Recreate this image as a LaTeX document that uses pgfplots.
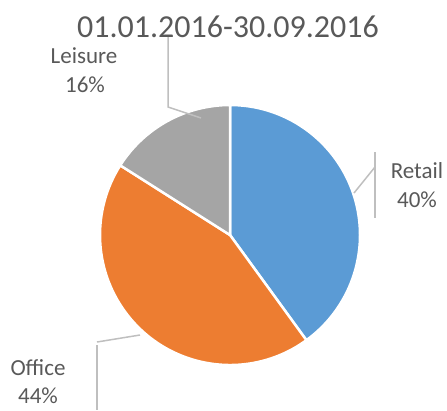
\documentclass[border=0pt]{standalone}
\usepackage{pgfplots}
\pgfplotsset{compat=1.18}
\usepackage{fontspec}
\setmainfont{Carlito}
\definecolor{retail}{HTML}{5B9BD5}
\definecolor{office}{HTML}{ED7D31}
\definecolor{leisure}{HTML}{A5A5A5}
\definecolor{txt}{HTML}{595959}
\definecolor{lead}{HTML}{BFBFBF}

% shares in percent
\def\vRetail{40}
\def\vOffice{44}
\def\vLeisure{16}
% angles, clockwise from 12 o'clock
\pgfmathsetmacro\aA{90}
\pgfmathsetmacro\aB{\aA-3.6*\vRetail}
\pgfmathsetmacro\aC{\aB-3.6*\vOffice}
\pgfmathsetmacro\aD{\aC-3.6*\vLeisure}

\begin{document}
\begin{tikzpicture}
\begin{axis}[
    width=447pt, height=410pt, scale only axis,
    xmin=0, xmax=447, ymin=0, ymax=410,
    y dir=reverse, hide axis, clip=false,
]
    % slices
    \filldraw[fill=retail, draw=white, line width=2.5pt, line join=round]
        (axis cs:230,235) -- ++(\aA:130pt) arc[start angle=\aA, end angle=\aB, radius=130pt] -- cycle;
    \filldraw[fill=office, draw=white, line width=2.5pt, line join=round]
        (axis cs:230,235) -- ++(\aB:130pt) arc[start angle=\aB, end angle=\aC, radius=130pt] -- cycle;
    \filldraw[fill=leisure, draw=white, line width=2.5pt, line join=round]
        (axis cs:230,235) -- ++(\aC:130pt) arc[start angle=\aC, end angle=\aD, radius=130pt] -- cycle;

    % leader lines
    \draw[lead, line width=1.5pt] (axis cs:168,37) -- (axis cs:168,107) -- (axis cs:201,118);
    \draw[lead, line width=1.5pt] (axis cs:375,152) -- (axis cs:375,218);
    \draw[lead, line width=1.5pt] (axis cs:375,167) -- (axis cs:354,193);
    \draw[lead, line width=1.5pt] (axis cs:97,345) -- (axis cs:97,410);
    \draw[lead, line width=1.5pt] (axis cs:97,342) -- (axis cs:140,335);

    % title
    \node[anchor=base, text=txt, font=\fontsize{32}{38}\selectfont, inner sep=0pt]
        at (axis cs:228,37) {01.01.2016-30.09.2016};

    % labels
    \node[anchor=base, text=txt, font=\fontsize{23}{28}\selectfont, inner sep=0pt] at (axis cs:84,63) {Leisure};
    \node[anchor=base, text=txt, font=\fontsize{23}{28}\selectfont, inner sep=0pt] at (axis cs:85,92) {16\%};
    \node[anchor=base, text=txt, font=\fontsize{23}{28}\selectfont, inner sep=0pt] at (axis cs:417,178) {Retail};
    \node[anchor=base, text=txt, font=\fontsize{23}{28}\selectfont, inner sep=0pt] at (axis cs:417,207) {40\%};
    \node[anchor=base, text=txt, font=\fontsize{23}{28}\selectfont, inner sep=0pt] at (axis cs:38,375) {Office};
    \node[anchor=base, text=txt, font=\fontsize{23}{28}\selectfont, inner sep=0pt] at (axis cs:38,403) {44\%};
\end{axis}
\useasboundingbox (current axis.south west) rectangle (current axis.north east);
\end{tikzpicture}
\end{document}
